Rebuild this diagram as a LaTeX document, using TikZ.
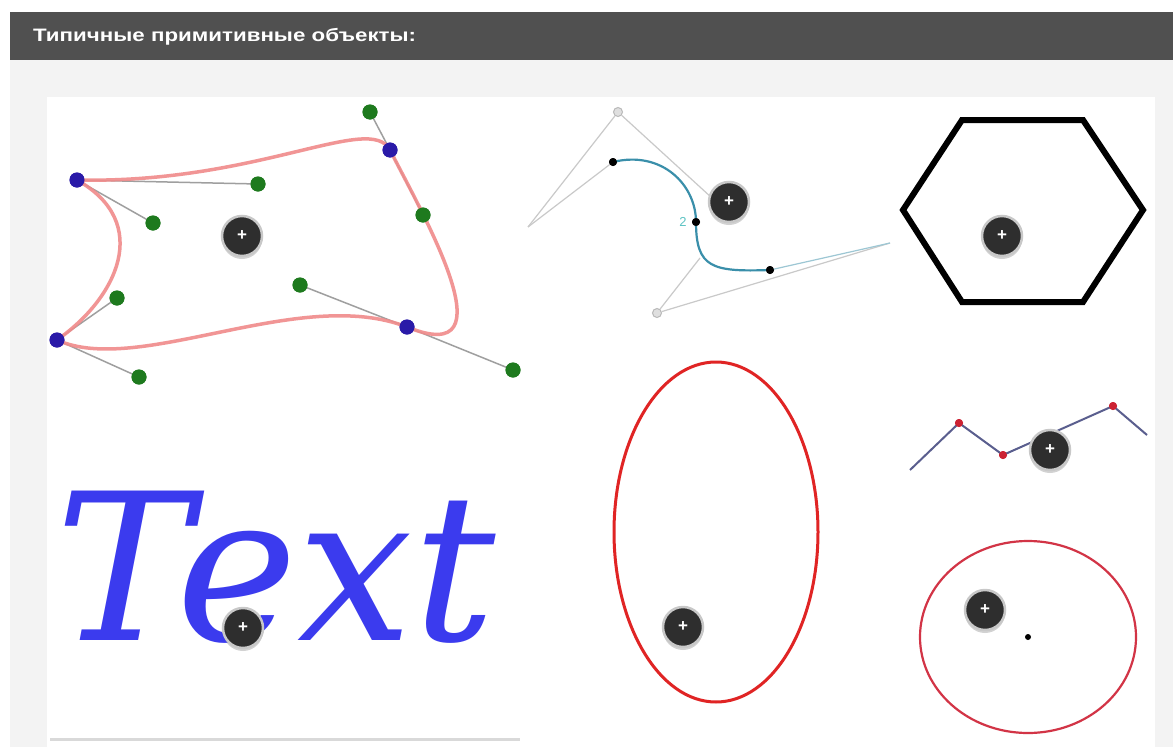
\documentclass[tikz,border=0pt]{standalone}
\usepackage{fontspec}
\newfontfamily\hdrfont{Liberation Sans}
\newfontfamily\txtfont{DejaVu Serif}
\usetikzlibrary{shadows}
\definecolor{hdr}{HTML}{505050}
\definecolor{panel}{HTML}{F3F3F3}
\definecolor{btndark}{HTML}{2E2E2E}
\definecolor{btnring}{HTML}{C8C8C8}
\definecolor{dotgreen}{HTML}{1E7A1E}
\definecolor{dotblue}{HTML}{2A1AA8}
\definecolor{curvered}{HTML}{F08A8A}
\definecolor{teal}{HTML}{3A8FAA}
\definecolor{tealtxt}{HTML}{5CC3C3}
\definecolor{lgray}{HTML}{C9C9C9}
\definecolor{polyblue}{HTML}{5A5E8E}
\definecolor{polyred}{HTML}{CC2233}
\definecolor{ellred}{HTML}{E02424}
\definecolor{circred}{HTML}{D23446}
\definecolor{txtblue}{HTML}{3B3BEE}
\begin{document}
\begin{tikzpicture}[x=1pt,y=-1pt,
  btn/.style={circle, fill=btndark, draw=btnring, line width=2.5pt, minimum size=40pt, inner sep=0pt,
    text=white, font=\hdrfont\bfseries\fontsize{17}{17}\selectfont,
    drop shadow={opacity=0.35, shadow xshift=0pt, shadow yshift=-3pt}},
  gdot/.style={circle, fill=dotgreen, inner sep=0pt, minimum size=15pt},
  bdot/.style={circle, fill=dotblue, inner sep=0pt, minimum size=15pt},
  kdot/.style={circle, fill=black, inner sep=0pt, minimum size=8pt},
  cdot/.style={circle, fill=gray!25, draw=gray!55, line width=1pt, inner sep=0pt, minimum size=9pt},
  rdot/.style={circle, fill=polyred, inner sep=0pt, minimum size=8pt},
  handle/.style={draw=gray!75, line width=1.5pt},
  thin/.style={draw=lgray, line width=1.2pt}
]
\useasboundingbox (0,0) rectangle (1173,747);
\fill[white] (0,0) rectangle (1173,747);
\fill[panel] (10,60) rectangle (1173,747);
\fill[hdr] (10,12) rectangle (1173,60);
\fill[white] (47,97) rectangle (1155,747);
\node[anchor=west, text=white, font=\hdrfont\bfseries\fontsize{18}{18}\selectfont, inner sep=0pt] (title) at (33,37) {\scalebox{1.24}[1]{Типичные примитивные объекты:}};

% ---------- Bezier shape (top left) ----------
\node[bdot] (a1) at (77,180) {};
\node[bdot] (a2) at (390,150) {};
\node[bdot] (a3) at (407,327) {};
\node[bdot] (a4) at (57,340) {};
\node[gdot] (g1a) at (258,184) {};
\node[gdot] (g1b) at (153,223) {};
\node[gdot] (g2a) at (370,112) {};
\node[gdot] (g2b) at (423,215) {};
\node[gdot] (g3a) at (300,285) {};
\node[gdot] (g3b) at (513,370) {};
\node[gdot] (g4a) at (117,298) {};
\node[gdot] (g4b) at (139,377) {};
\draw[handle] (a1.center) -- (g1a.center);
\draw[handle] (a1.center) -- (g1b.center);
\draw[handle] (a2.center) -- (g2a.center);
\draw[handle] (a2.center) -- (g2b.center);
\draw[handle] (a3.center) -- (g3a.center);
\draw[handle] (a3.center) -- (g3b.center);
\draw[handle] (a4.center) -- (g4a.center);
\draw[handle] (a4.center) -- (g4b.center);
\draw[curvered, line width=3.5pt, opacity=0.9]
  (a1.center) .. controls (g1a.center) and (g2a.center) .. (a2.center)
  .. controls (g2b.center) and (g3b.center) .. (a3.center)
  .. controls (g3a.center) and (g4b.center) .. (a4.center)
  .. controls (g4a.center) and (g1b.center) .. (a1.center) -- cycle;
\foreach \n in {a1,a2,a3,a4} \node[bdot] at (\n) {};
\foreach \n in {g1a,g1b,g2a,g2b,g3a,g3b,g4a,g4b} \node[gdot] at (\n) {};
\node[btn] (btn1) at (242,236) {+};

% ---------- Bezier curve (top middle) ----------
\coordinate (l) at (528,227);
\coordinate (r) at (890,243);
\coordinate (h1) at (712,198);
\coordinate (h2) at (700,258);
\node[cdot] (c1) at (618,112) {};
\node[cdot] (c2) at (657,313) {};
\draw[thin] (l) -- (c1);
\draw[thin] (l) -- (613,162);
\draw[thin] (c1) -- (h1);
\draw[thin] (c2) -- (h2);
\draw[thin] (c2) -- (r);
\node[kdot] (b1) at (613,162) {};
\node[kdot] (b2) at (696,222) {};
\node[kdot] (b3) at (770,270) {};
\draw[teal!50, line width=1.2pt] (b3.center) -- (r);
\draw[teal, line width=2.2pt] (b1.center) .. controls (662,150) and (696,185) .. (b2.center)
  .. controls (696,268) and (712,272) .. (b3.center);
\foreach \n in {b1,b2,b3} \node[kdot] at (\n) {};
\node[text=tealtxt, font=\hdrfont\fontsize{13}{13}\selectfont, inner sep=0pt] (lbl2) at (683,222) {2};
\node[btn] (btn2) at (729,202) {+};

% ---------- Hexagon ----------
\draw[black, line width=6pt, line join=miter]
  (962,120) -- (1083,120) -- (1143,210) -- (1083,302) -- (962,302) -- (903,210) -- cycle;
\node[btn] (btn3) at (1002,236) {+};

% ---------- Polyline ----------
\coordinate (p0) at (910,470);
\node[rdot] (p1) at (959,423) {};
\node[rdot] (p2) at (1003,455) {};
\node[rdot] (p3) at (1113,406) {};
\coordinate (p4) at (1147,435);
\draw[polyblue, line width=2pt] (p0) -- (p1.center) -- (p2.center) -- (p3.center) -- (p4);
\foreach \n in {p1,p2,p3} \node[rdot] at (\n) {};
\node[btn] (btn4) at (1050,450) {+};

% ---------- Ellipse ----------
\draw[ellred, line width=3pt] (716,532) ellipse [x radius=102, y radius=170];
\node[btn] (btn5) at (683,627) {+};

% ---------- Circle ----------
\draw[circred, line width=2.2pt] (1028,637) ellipse [x radius=108, y radius=96];
\node[circle, fill=black, inner sep=0pt, minimum size=6pt] (cc) at (1028,637) {};
\node[btn] (btn6) at (985,610) {+};

% ---------- Text ----------
\node[anchor=base west, inner sep=0pt, text=txtblue, font=\txtfont\itshape\fontsize{205}{205}\selectfont] (txt) at (55,640) {Text};
\node[btn] (btn7) at (243,628) {+};
\draw[gray!30, line width=3pt] (50,739) -- (520,739);
\end{tikzpicture}
\end{document}
